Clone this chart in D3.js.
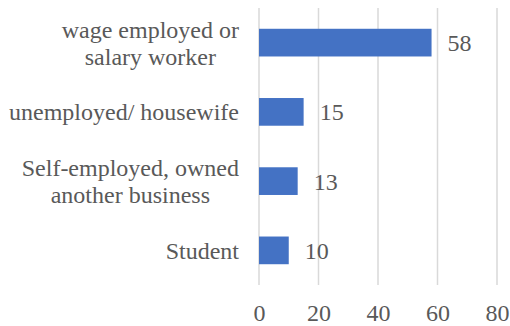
<!DOCTYPE html>
<html>
<head>
<meta charset="utf-8">
<script src="https://cdn.jsdelivr.net/npm/d3@7"></script>
<style>
  html, body { margin: 0; padding: 0; background: #fff; }
</style>
</head>
<body>
<svg id="chart" width="510" height="326"></svg>
<script>
// Occupation categories, top to bottom, each split into display lines
const categories = [
  ["wage employed or", "salary worker"],
  ["unemployed/ housewife"],
  ["Self-employed, owned", "another business"],
  ["Student"]
];
const values = [58, 15, 13, 10];
const xTicks = [0, 20, 40, 60, 80];

const FONT = "Liberation Serif";
const TEXT = "#595959";

const svg = d3.select("#chart");
const margin = { left: 259, right: 13, top: 8, bottom: 41 };
const W = 510, H = 326;
const fontSize = 24;

const keys = categories.map((c, i) => i);

const x = d3.scaleLinear().domain([0, 80]).range([margin.left, W - margin.right]);
const y = d3.scaleBand().domain(keys).range([margin.top, H - margin.bottom])
  .paddingInner(0.6).paddingOuter(0.3);

// vertical gridlines
svg.append("g").selectAll("line").data(xTicks).join("line")
  .attr("x1", d => x(d)).attr("x2", d => x(d))
  .attr("y1", margin.top).attr("y2", H - margin.bottom)
  .attr("stroke", "#d9d9d9").attr("stroke-width", 1.5);

// bars
svg.append("g").selectAll("rect").data(keys).join("rect")
  .attr("x", x(0))
  .attr("y", i => y(i))
  .attr("width", i => x(values[i]) - x(0))
  .attr("height", y.bandwidth())
  .attr("fill", "#4472c4");

// value labels
svg.append("g").selectAll("text").data(keys).join("text")
  .attr("x", i => x(values[i]) + 16)
  .attr("y", i => y(i) + y.bandwidth() / 2)
  .attr("dy", "0.35em")
  .attr("font-family", FONT).attr("fill", TEXT)
  .attr("font-size", fontSize)
  .text(i => values[i]);

// category labels: lines centred on each other, block right-aligned near the axis
const lineH = 27;
const labelRight = margin.left - 20;
const cat = svg.append("g").selectAll("text").data(keys).join("text")
  .attr("text-anchor", "middle")
  .attr("font-family", FONT).attr("fill", TEXT)
  .attr("font-size", fontSize)
  .attr("y", i => y(i) + y.bandwidth() / 2);
cat.each(function (i) {
  const lines = categories[i];
  const t = d3.select(this);
  const spans = lines.map((ln, k) => t.append("tspan")
    .attr("dy", k === 0 ? ((-(lines.length - 1) / 2) * lineH + fontSize * 0.35) : lineH)
    .text(ln));
  const maxW = d3.max(spans, s => s.node().getComputedTextLength());
  spans.forEach(s => s.attr("x", labelRight - maxW / 2));
});

// x axis tick labels
const xAxis = d3.axisBottom(x).tickValues(xTicks).tickSize(0).tickPadding(0);
const gx = svg.append("g").attr("transform", `translate(0,${H - margin.bottom})`).call(xAxis);
gx.attr("font-family", FONT).attr("font-size", fontSize);
gx.select(".domain").remove();
gx.selectAll("text")
  .attr("dy", null)
  .attr("y", 36)
  .attr("fill", TEXT);
</script>
</body>
</html>
